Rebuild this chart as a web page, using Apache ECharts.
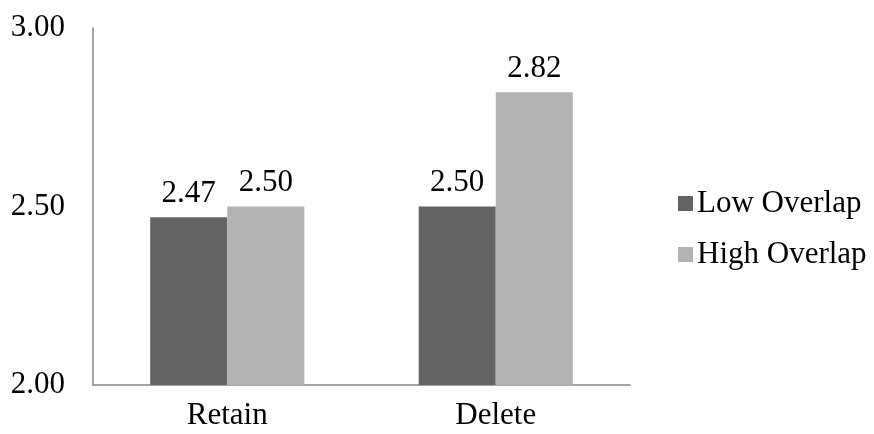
<!DOCTYPE html>
<html>
<head>
<meta charset="utf-8">
<script src="https://cdn.jsdelivr.net/npm/echarts@6/dist/echarts.min.js"></script>
<style>
  html, body { margin: 0; padding: 0; background: #fff; }
  #chart { width: 874px; height: 434px; }
</style>
</head>
<body>
<div id="chart"></div>
<script>
// Mean ratings by edit condition and overlap level
const categories = ['Retain', 'Delete'];
const seriesNames = ['Low Overlap', 'High Overlap'];
const lowOverlap = [2.47, 2.50];
const highOverlap = [2.50, 2.82];
const yTicks = [2.00, 2.50, 3.00];

const FONT = '"Liberation Serif", "Times New Roman", serif';
const FS = 31;

const chart = echarts.init(document.getElementById('chart'), null, { renderer: 'canvas' });

const labelStyle = {
  show: true,
  position: 'top',
  distance: 8,
  fontFamily: FONT,
  fontSize: FS,
  color: '#000',
  formatter: p => p.value.toFixed(2)
};

chart.setOption({
  animation: false,
  backgroundColor: '#fff',
  grid: { left: 93, right: 244, top: 28, bottom: 49 },
  legend: {
    orient: 'vertical',
    left: 673,
    top: 183,
    itemWidth: 15,
    itemHeight: 15,
    itemGap: 20,
    icon: 'rect',
    textStyle: { fontFamily: FONT, fontSize: FS, color: '#000', padding: [0, 0, 0, -1] },
    data: seriesNames
  },
  xAxis: {
    type: 'category',
    data: categories,
    axisLine: { lineStyle: { color: '#868686', width: 1.5 } },
    axisTick: { show: false },
    axisLabel: { fontFamily: FONT, fontSize: FS, color: '#000', margin: 15 }
  },
  yAxis: {
    type: 'value',
    min: yTicks[0],
    max: yTicks[yTicks.length - 1],
    interval: yTicks[1] - yTicks[0],
    splitLine: { show: false },
    axisLine: { show: true, lineStyle: { color: '#868686', width: 1.5 } },
    axisTick: { show: false },
    axisLabel: {
      fontFamily: FONT, fontSize: FS, color: '#000', margin: 28,
      formatter: v => v.toFixed(2)
    }
  },
  series: [
    {
      name: seriesNames[0],
      type: 'bar',
      data: lowOverlap,
      barGap: '0%',
      barCategoryGap: '42.6%',
      itemStyle: { color: '#646464' },
      label: labelStyle
    },
    {
      name: seriesNames[1],
      type: 'bar',
      data: highOverlap,
      barGap: '0%',
      barCategoryGap: '42.6%',
      itemStyle: { color: '#b2b2b2' },
      label: labelStyle
    }
  ]
});
</script>
</body>
</html>
